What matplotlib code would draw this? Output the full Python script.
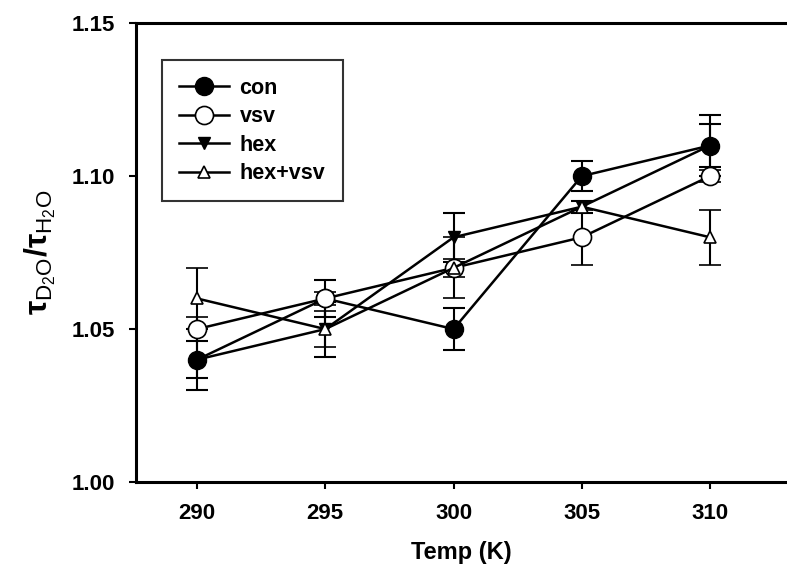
import numpy as np
import matplotlib
matplotlib.use("Agg")
import matplotlib.pyplot as plt

plt.rcParams['font.family'] = ['Liberation Sans', 'DejaVu Sans']
plt.rcParams['font.weight'] = 'bold'
plt.rcParams['mathtext.fontset'] = 'custom'
plt.rcParams['mathtext.rm'] = 'Liberation Sans:bold'
plt.rcParams['mathtext.it'] = 'Liberation Sans:bold'
plt.rcParams['mathtext.bf'] = 'Liberation Sans:bold'

# data
temp = [290, 295, 300, 305, 310]
con = [1.04, 1.06, 1.05, 1.10, 1.11]
con_err = [0.010, 0.006, 0.007, 0.005, 0.010]
vsv = [1.05, 1.06, 1.07, 1.08, 1.10]
vsv_err = [0.004, 0.002, 0.003, 0.009, 0.002]
hexa = [1.04, 1.05, 1.08, 1.09, 1.11]
hex_err = [0.006, 0.009, 0.008, 0.002, 0.007]
hexvsv = [1.06, 1.05, 1.07, 1.09, 1.08]
hexvsv_err = [0.010, 0.006, 0.010, 0.002, 0.009]

fig = plt.figure(figsize=(7.87, 5.78), dpi=100)
ax = fig.add_axes([0.1728, 0.166, 0.8272, 0.794])

common = dict(color='black', ecolor='black', elinewidth=1.5, capsize=8,
              capthick=1.5, linewidth=1.8)
c1 = ax.errorbar(temp, con, yerr=con_err, marker='o', markersize=13,
                 markerfacecolor='black', markeredgecolor='black', **common)
c2 = ax.errorbar(temp, vsv, yerr=vsv_err, marker='o', markersize=13,
                 markerfacecolor='white', markeredgecolor='black', markeredgewidth=1.2,
                 **common)
c3 = ax.errorbar(temp, hexa, yerr=hex_err, marker='v', markersize=9,
                 markerfacecolor='black', markeredgecolor='black', **common)
c4 = ax.errorbar(temp, hexvsv, yerr=hexvsv_err, marker='^', markersize=8,
                 markerfacecolor='white', markeredgecolor='black', markeredgewidth=1.2,
                 **common)

ax.set_xlim(287.62, 313.0)
ax.set_ylim(1.0, 1.15)
ax.set_xticks(temp)
ax.set_yticks([1.00, 1.05, 1.10, 1.15])
ax.set_yticklabels(['1.00', '1.05', '1.10', '1.15'])

for s in ['left', 'bottom', 'top']:
    ax.spines[s].set_linewidth(2.2)
ax.spines['right'].set_visible(False)
ax.tick_params(direction='out', length=5, width=1.5, labelsize=16, pad=10)

ax.set_xlabel('Temp (K)', fontsize=17, fontweight='bold', labelpad=12)
ax.set_ylabel(r'$\tau_{\mathregular{D_2O}}/\tau_{\mathregular{H_2O}}$', fontsize=23, labelpad=10)

handles = [c1.lines[0], c2.lines[0], c3.lines[0], c4.lines[0]]
labels = ['con', 'vsv', 'hex', 'hex+vsv']
leg = ax.legend(handles, labels, loc='upper left', bbox_to_anchor=(0.04, 0.919),
                borderaxespad=0, fancybox=False, edgecolor='black', fontsize=15.5,
                handlelength=2.3, labelspacing=0.35, borderpad=0.8, handletextpad=0.5)
leg.get_frame().set_linewidth(1.5)

fig.savefig('out.png', dpi=100)
